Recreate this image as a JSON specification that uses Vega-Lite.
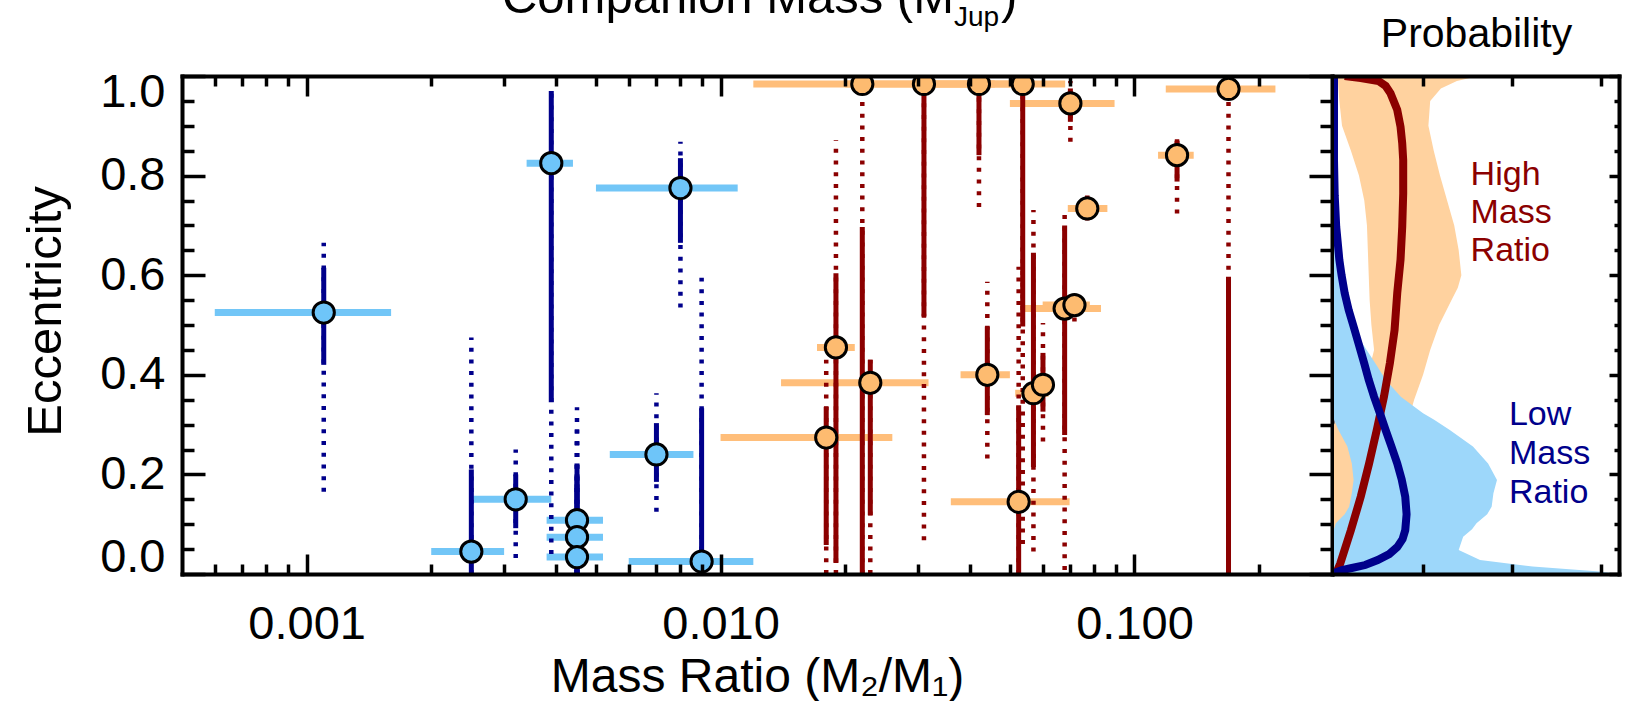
{
  "$schema": "https://vega.github.io/schema/vega-lite/v6.json",
  "autosize": {"type": "none"},
  "padding": {"left": 182, "top": 76, "right": 1453, "bottom": 625},
  "background": "white",
  "spacing": 0,
  "config": {"view": {"stroke": null}, "font": "Liberation Sans", "axis": {"grid": false}},
  "datasets": {
    "pts": [
      {"g":"L","q":0.0011,"qlo":0.0006,"qhi":0.0016,"e":0.525,"e1lo":0.42,"e1hi":0.615,"e2lo":0.165,"e2hi":0.665},
      {"g":"L","q":0.0039,"qlo":0.0034,"qhi":0.0044,"e":0.825,"e1lo":0.345,"e1hi":0.97,"e2lo":0.04,"e2hi":0.97},
      {"g":"L","q":0.0080,"qlo":0.0050,"qhi":0.0110,"e":0.775,"e1lo":0.665,"e1hi":0.835,"e2lo":0.535,"e2hi":0.868},
      {"g":"L","q":0.0025,"qlo":0.0020,"qhi":0.0030,"e":0.045,"e1lo":0.0,"e1hi":0.21,"e2lo":0.0,"e2hi":0.475},
      {"g":"L","q":0.0032,"qlo":0.0025,"qhi":0.0039,"e":0.15,"e1lo":0.092,"e1hi":0.20,"e2lo":0.032,"e2hi":0.25},
      {"g":"L","q":0.0045,"qlo":0.0038,"qhi":0.0052,"e":0.108,"e1lo":0.0,"e1hi":0.222,"e2lo":0.0,"e2hi":0.335},
      {"g":"L","q":0.0045,"qlo":0.0038,"qhi":0.0052,"e":0.074,"e1lo":0.0,"e1hi":0.2,"e2lo":0.0,"e2hi":0.3},
      {"g":"L","q":0.0045,"qlo":0.0038,"qhi":0.0052,"e":0.034,"e1lo":0.0,"e1hi":0.18,"e2lo":0.0,"e2hi":0.28},
      {"g":"L","q":0.0070,"qlo":0.0054,"qhi":0.0086,"e":0.24,"e1lo":0.185,"e1hi":0.303,"e2lo":0.125,"e2hi":0.363},
      {"g":"L","q":0.0090,"qlo":0.0060,"qhi":0.0120,"e":0.025,"e1lo":0.0,"e1hi":0.333,"e2lo":0.0,"e2hi":0.595},
      {"g":"H","q":0.0220,"qlo":0.012,"qhi":0.040,"e":0.984,"e1lo":0.0,"e1hi":0.697,"e2lo":0.0,"e2hi":0.958},
      {"g":"H","q":0.0310,"qlo":0.020,"qhi":0.046,"e":0.984,"e1lo":0.517,"e1hi":0.975,"e2lo":0.068,"e2hi":0.975},
      {"g":"H","q":0.0421,"qlo":0.030,"qhi":0.056,"e":0.984,"e1lo":0.841,"e1hi":0.975,"e2lo":0.737,"e2hi":0.975},
      {"g":"H","q":0.0537,"qlo":0.040,"qhi":0.068,"e":0.984,"e1lo":0.497,"e1hi":0.975,"e2lo":0.06,"e2hi":0.975},
      {"g":"H","q":0.0700,"qlo":0.050,"qhi":0.0895,"e":0.945,"e1lo":0.908,"e1hi":0.975,"e2lo":0.868,"e2hi":0.99},
      {"g":"H","q":0.1687,"qlo":0.119,"qhi":0.219,"e":0.974,"e1lo":0.0,"e1hi":0.597,"e2lo":0.0,"e2hi":0.96},
      {"g":"H","q":0.1267,"qlo":0.114,"qhi":0.139,"e":0.841,"e1lo":0.788,"e1hi":0.87,"e2lo":0.724,"e2hi":0.88},
      {"g":"H","q":0.0769,"qlo":0.069,"qhi":0.086,"e":0.734,"e1lo":0.72,"e1hi":0.75,"e2lo":0.71,"e2hi":0.76},
      {"g":"H","q":0.0678,"qlo":0.053,"qhi":0.083,"e":0.533,"e1lo":0.279,"e1hi":0.70,"e2lo":0.008,"e2hi":0.725},
      {"g":"H","q":0.0716,"qlo":0.060,"qhi":0.078,"e":0.54,"e1lo":0.52,"e1hi":0.56,"e2lo":0.507,"e2hi":0.577},
      {"g":"H","q":0.0441,"qlo":0.038,"qhi":0.050,"e":0.40,"e1lo":0.319,"e1hi":0.497,"e2lo":0.232,"e2hi":0.587},
      {"g":"H","q":0.0570,"qlo":0.0515,"qhi":0.062,"e":0.363,"e1lo":0.215,"e1hi":0.645,"e2lo":0.045,"e2hi":0.731},
      {"g":"H","q":0.0601,"qlo":0.057,"qhi":0.063,"e":0.38,"e1lo":0.326,"e1hi":0.444,"e2lo":0.266,"e2hi":0.504},
      {"g":"H","q":0.0525,"qlo":0.036,"qhi":0.0697,"e":0.145,"e1lo":0.0,"e1hi":0.339,"e2lo":0.0,"e2hi":0.617},
      {"g":"H","q":0.0190,"qlo":0.0171,"qhi":0.0211,"e":0.455,"e1lo":0.022,"e1hi":0.604,"e2lo":0.0,"e2hi":0.871},
      {"g":"H","q":0.0230,"qlo":0.0140,"qhi":0.0318,"e":0.384,"e1lo":0.118,"e1hi":0.43,"e2lo":0.0,"e2hi":0.43},
      {"g":"H","q":0.0180,"qlo":0.010,"qhi":0.026,"e":0.274,"e1lo":0.058,"e1hi":0.336,"e2lo":0.0,"e2hi":0.43}
    ],
    "oband": [
      {"e":0.0,"lo":0.0,"hi":0.4},{"e":0.1,"lo":0.0,"hi":0.5},{"e":0.2,"lo":0.0,"hi":0.62},
      {"e":0.3,"lo":0.0,"hi":0.82},{"e":0.35,"lo":0.2,"hi":0.9},{"e":0.4,"lo":0.38,"hi":1.0},
      {"e":0.45,"lo":0.45,"hi":1.08},{"e":0.5,"lo":0.42,"hi":1.18},{"e":0.55,"lo":0.40,"hi":1.32},
      {"e":0.575,"lo":0.395,"hi":1.39},{"e":0.6,"lo":0.39,"hi":1.43},{"e":0.65,"lo":0.38,"hi":1.40},
      {"e":0.7,"lo":0.37,"hi":1.35},{"e":0.75,"lo":0.34,"hi":1.27},{"e":0.8,"lo":0.28,"hi":1.19},
      {"e":0.85,"lo":0.19,"hi":1.12},{"e":0.9,"lo":0.09,"hi":1.06},{"e":0.95,"lo":0.06,"hi":1.08},
      {"e":0.975,"lo":0.05,"hi":1.2},{"e":0.99,"lo":0.045,"hi":1.38},{"e":1.0,"lo":0.04,"hi":1.62}
    ],
    "bband": [
      {"e":0.0,"lo":0.0,"hi":3.2},{"e":0.005,"lo":0.0,"hi":2.98},{"e":0.015,"lo":0.0,"hi":2.23},
      {"e":0.028,"lo":0.0,"hi":1.64},{"e":0.048,"lo":0.0,"hi":1.4},{"e":0.075,"lo":0.0,"hi":1.45},
      {"e":0.09,"lo":0.0,"hi":1.55},{"e":0.102,"lo":0.02,"hi":1.6},{"e":0.12,"lo":0.12,"hi":1.72},
      {"e":0.135,"lo":0.17,"hi":1.77},{"e":0.162,"lo":0.2,"hi":1.79},{"e":0.189,"lo":0.22,"hi":1.83},
      {"e":0.222,"lo":0.2,"hi":1.73},{"e":0.256,"lo":0.15,"hi":1.56},{"e":0.289,"lo":0.05,"hi":1.3},
      {"e":0.31,"lo":0.0,"hi":1.12},{"e":0.323,"lo":0.0,"hi":1.0},{"e":0.356,"lo":0.0,"hi":0.75},
      {"e":0.39,"lo":0.0,"hi":0.58},{"e":0.424,"lo":0.0,"hi":0.46},{"e":0.46,"lo":0.0,"hi":0.33},
      {"e":0.5,"lo":0.0,"hi":0.2},{"e":0.55,"lo":0.0,"hi":0.1},{"e":0.6,"lo":0.0,"hi":0.07},
      {"e":0.65,"lo":0.0,"hi":0.05},{"e":0.7,"lo":0.0,"hi":0.04},{"e":0.8,"lo":0.0,"hi":0.03},
      {"e":0.9,"lo":0.0,"hi":0.02},{"e":1.0,"lo":0.0,"hi":0.02}
    ],
    "rcurve": [
      {"e":0.0,"p":0.02},{"e":0.021,"p":0.07},{"e":0.088,"p":0.19},{"e":0.155,"p":0.30},
      {"e":0.222,"p":0.394},{"e":0.289,"p":0.48},{"e":0.356,"p":0.561},{"e":0.424,"p":0.628},
      {"e":0.49,"p":0.68},{"e":0.564,"p":0.71},{"e":0.631,"p":0.747},{"e":0.697,"p":0.766},
      {"e":0.764,"p":0.777},{"e":0.831,"p":0.777},{"e":0.865,"p":0.766},{"e":0.898,"p":0.747},
      {"e":0.932,"p":0.71},{"e":0.965,"p":0.635},{"e":0.98,"p":0.58},{"e":0.99,"p":0.5},
      {"e":0.996,"p":0.3},{"e":1.0,"p":0.12}
    ],
    "bcurve": [
      {"e":0.0,"p":0.0},{"e":0.004,"p":0.03},{"e":0.008,"p":0.09},{"e":0.012,"p":0.2},
      {"e":0.018,"p":0.35},{"e":0.028,"p":0.49},{"e":0.04,"p":0.62},{"e":0.054,"p":0.71},
      {"e":0.07,"p":0.77},{"e":0.088,"p":0.80},{"e":0.12,"p":0.815},{"e":0.155,"p":0.80},
      {"e":0.19,"p":0.76},{"e":0.222,"p":0.71},{"e":0.256,"p":0.645},{"e":0.289,"p":0.58},
      {"e":0.323,"p":0.515},{"e":0.356,"p":0.45},{"e":0.39,"p":0.39},{"e":0.424,"p":0.338},
      {"e":0.46,"p":0.28},{"e":0.497,"p":0.22},{"e":0.53,"p":0.165},{"e":0.564,"p":0.12},
      {"e":0.6,"p":0.085},{"e":0.631,"p":0.06},{"e":0.697,"p":0.025},{"e":0.76,"p":0.008},
      {"e":0.83,"p":0.0},{"e":1.0,"p":0.0}
    ]
  },
  "hconcat": [
    {
      "width": 1150,
      "height": 498,
      "data": {"name": "pts"},
      "resolve": {"axis": {"x": "independent", "y": "independent"}},
      "layer": [
        {
          "transform": [{"filter": "datum.g == 'L'"}],
          "mark": {"type": "rule", "color": "#72C6F7", "strokeWidth": 7, "clip": true},
          "encoding": {
            "x": {"field": "qlo", "type": "quantitative", "scale": {"type": "log", "domain": [0.0005, 0.3], "nice": false},
              "axis": {"orient": "bottom", "values": [0.0006,0.0007,0.0008,0.0009,0.001,0.002,0.003,0.004,0.005,0.006,0.007,0.008,0.009,0.01,0.02,0.03,0.04,0.05,0.06,0.07,0.08,0.09,0.1,0.2],
                "tickSize": {"condition": {"test": "abs(log(datum.value)/LN10 - round(log(datum.value)/LN10)) < 0.01", "value": -20}, "value": -10},
                "tickWidth": 3.5, "tickColor": "black", "domainColor": "black", "domainWidth": 4, "domainCap": "square",
                "labelExpr": "abs(log(datum.value)/LN10 - round(log(datum.value)/LN10)) < 0.01 ? format(datum.value, '.3f') : ''",
                "labelFontSize": 47, "labelColor": "black", "labelPadding": 84, "labelBaseline": "alphabetic",
                "labelFlush": false, "labelOverlap": false, "labelBound": false,
                "title": "Mass Ratio (M₂/M₁)", "titleFontSize": 48, "titleFontWeight": "normal", "titleColor": "black",
                "titleBaseline": "alphabetic", "titleAlign": "center", "titleX": 575, "titleY": 117, "grid": false, "zindex": 1}},
            "x2": {"field": "qhi"},
            "y": {"field": "e", "type": "quantitative", "scale": {"domain": [0, 1], "nice": false, "zero": false},
              "axis": {"orient": "left", "values": [0,0.05,0.1,0.15,0.2,0.25,0.3,0.35,0.4,0.45,0.5,0.55,0.6,0.65,0.7,0.75,0.8,0.85,0.9,0.95,1.0],
                "tickSize": {"condition": {"test": "abs(datum.value*5 - round(datum.value*5)) < 0.01", "value": -23}, "value": -12},
                "tickWidth": 3.5, "tickColor": "black", "domainColor": "black", "domainWidth": 4, "domainCap": "square",
                "labelExpr": "abs(datum.value*5 - round(datum.value*5)) < 0.01 ? format(datum.value, '.1f') : ''",
                "labelFontSize": 47, "labelColor": "black", "labelPadding": 40,
                "labelOffset": {"condition": [{"test": "datum.value > 0.99", "value": 16}, {"test": "datum.value < 0.01", "value": -17}], "value": 0},
                "labelFlush": false, "labelOverlap": false, "labelBound": false,
                "title": "Eccentricity", "titleFontSize": 49, "titleFontWeight": "normal", "titleColor": "black",
                "titleAngle": 270, "titleBaseline": "bottom", "titleAlign": "center", "titleX": -112, "titleY": 235, "grid": false, "zindex": 1}}
          }
        },
        {
          "transform": [{"filter": "datum.g == 'H'"}],
          "mark": {"type": "rule", "color": "#FFBE7A", "strokeWidth": 7, "clip": true},
          "encoding": {
            "x": {"field": "qlo", "type": "quantitative", "scale": {"type": "log", "domain": [0.0005, 0.3], "nice": false},
              "axis": {"orient": "top", "values": [0.0006,0.0007,0.0008,0.0009,0.001,0.002,0.003,0.004,0.005,0.006,0.007,0.008,0.009,0.01,0.02,0.03,0.04,0.05,0.06,0.07,0.08,0.09,0.1,0.2],
                "tickSize": {"condition": {"test": "abs(log(datum.value)/LN10 - round(log(datum.value)/LN10)) < 0.01", "value": -20}, "value": -10},
                "tickWidth": 3.5, "tickColor": "black", "domainColor": "black", "domainWidth": 4, "domainCap": "square",
                "labels": false, "title": null, "grid": false, "zindex": 1}},
            "x2": {"field": "qhi"},
            "y": {"field": "e", "type": "quantitative", "scale": {"domain": [0, 1], "nice": false, "zero": false},
              "axis": {"orient": "right", "values": [0,0.05,0.1,0.15,0.2,0.25,0.3,0.35,0.4,0.45,0.5,0.55,0.6,0.65,0.7,0.75,0.8,0.85,0.9,0.95,1.0],
                "tickSize": {"condition": {"test": "abs(datum.value*5 - round(datum.value*5)) < 0.01", "value": -23}, "value": -12},
                "tickWidth": 3.5, "tickColor": "black", "domainColor": "black", "domainWidth": 4, "domainCap": "square",
                "labels": false, "title": null, "grid": false, "zindex": 1}}
          }
        },
        {
          "transform": [{"filter": "datum.g == 'L'"}],
          "mark": {"type": "rule", "color": "#00008B", "strokeWidth": 4.5, "strokeDash": [4, 7.7], "clip": true},
          "encoding": {
            "x": {"field": "q", "type": "quantitative", "scale": {"type": "log", "domain": [0.0005, 0.3], "nice": false}, "axis": null},
            "y": {"field": "e2lo", "type": "quantitative", "scale": {"domain": [0, 1], "nice": false, "zero": false}, "axis": null},
            "y2": {"field": "e2hi"}
          }
        },
        {
          "transform": [{"filter": "datum.g == 'H'"}],
          "mark": {"type": "rule", "color": "#8B0000", "strokeWidth": 4.5, "strokeDash": [4, 7.7], "clip": true},
          "encoding": {
            "x": {"field": "q", "type": "quantitative", "scale": {"type": "log", "domain": [0.0005, 0.3], "nice": false}, "axis": null},
            "y": {"field": "e2lo", "type": "quantitative", "scale": {"domain": [0, 1], "nice": false, "zero": false}, "axis": null},
            "y2": {"field": "e2hi"}
          }
        },
        {
          "transform": [{"filter": "datum.g == 'L'"}],
          "mark": {"type": "rule", "color": "#00008B", "strokeWidth": 5, "clip": true},
          "encoding": {
            "x": {"field": "q", "type": "quantitative", "scale": {"type": "log", "domain": [0.0005, 0.3], "nice": false}, "axis": null},
            "y": {"field": "e1lo", "type": "quantitative", "scale": {"domain": [0, 1], "nice": false, "zero": false}, "axis": null},
            "y2": {"field": "e1hi"}
          }
        },
        {
          "transform": [{"filter": "datum.g == 'H'"}],
          "mark": {"type": "rule", "color": "#8B0000", "strokeWidth": 5, "clip": true},
          "encoding": {
            "x": {"field": "q", "type": "quantitative", "scale": {"type": "log", "domain": [0.0005, 0.3], "nice": false}, "axis": null},
            "y": {"field": "e1lo", "type": "quantitative", "scale": {"domain": [0, 1], "nice": false, "zero": false}, "axis": null},
            "y2": {"field": "e1hi"}
          }
        },
        {
          "transform": [{"filter": "datum.g == 'L'"}],
          "mark": {"type": "point", "shape": "circle", "filled": true, "fill": "#6EC5F9", "stroke": "black", "strokeWidth": 3, "size": 450, "opacity": 1, "clip": true},
          "encoding": {
            "x": {"field": "q", "type": "quantitative", "scale": {"type": "log", "domain": [0.0005, 0.3], "nice": false}, "axis": null},
            "y": {"field": "e", "type": "quantitative", "scale": {"domain": [0, 1], "nice": false, "zero": false}, "axis": null}
          }
        },
        {
          "transform": [{"filter": "datum.g == 'H'"}],
          "mark": {"type": "point", "shape": "circle", "filled": true, "fill": "#FDBB70", "stroke": "black", "strokeWidth": 3, "size": 450, "opacity": 1, "clip": true},
          "encoding": {
            "x": {"field": "q", "type": "quantitative", "scale": {"type": "log", "domain": [0.0005, 0.3], "nice": false}, "axis": null},
            "y": {"field": "e", "type": "quantitative", "scale": {"domain": [0, 1], "nice": false, "zero": false}, "axis": null}
          }
        },
        {
          "data": {"values": [{}]},
          "mark": {"type": "text", "text": "Companion Mass (M", "align": "right", "baseline": "alphabetic", "fontSize": 49, "color": "black"},
          "encoding": {
            "x": {"datum": 0.03664, "type": "quantitative", "scale": {"type": "log", "domain": [0.0005, 0.3], "nice": false}, "axis": null},
            "y": {"datum": 1.1265, "type": "quantitative", "scale": {"domain": [0, 1], "nice": false, "zero": false}, "axis": null}
          }
        },
        {
          "data": {"values": [{}]},
          "mark": {"type": "text", "text": "Jup", "align": "left", "baseline": "alphabetic", "fontSize": 28, "color": "black"},
          "encoding": {
            "x": {"datum": 0.03664, "type": "quantitative", "scale": {"type": "log", "domain": [0.0005, 0.3], "nice": false}, "axis": null},
            "y": {"datum": 1.1004, "type": "quantitative", "scale": {"domain": [0, 1], "nice": false, "zero": false}, "axis": null}
          }
        },
        {
          "data": {"values": [{}]},
          "mark": {"type": "text", "text": ")", "align": "left", "baseline": "alphabetic", "fontSize": 49, "color": "black"},
          "encoding": {
            "x": {"datum": 0.04762, "type": "quantitative", "scale": {"type": "log", "domain": [0.0005, 0.3], "nice": false}, "axis": null},
            "y": {"datum": 1.1265, "type": "quantitative", "scale": {"domain": [0, 1], "nice": false, "zero": false}, "axis": null}
          }
        }
      ]
    },
    {
      "width": 285,
      "height": 498,
      "resolve": {"axis": {"x": "independent", "y": "independent"}},
      "layer": [
        {
          "data": {"name": "oband"},
          "mark": {"type": "area", "orient": "horizontal", "color": "#FFD29F", "opacity": 1, "clip": true},
          "encoding": {
            "y": {"field": "e", "type": "quantitative", "scale": {"domain": [0, 1], "nice": false, "zero": false},
              "axis": {"orient": "right", "values": [0,0.05,0.1,0.15,0.2,0.25,0.3,0.35,0.4,0.45,0.5,0.55,0.6,0.65,0.7,0.75,0.8,0.85,0.9,0.95,1.0],
                "tickSize": {"condition": {"test": "abs(datum.value*5 - round(datum.value*5)) < 0.01", "value": -10}, "value": -5},
                "tickWidth": 3.5, "tickColor": "black", "domainColor": "black", "domainWidth": 4, "domainCap": "square",
                "labels": false, "title": null, "grid": false, "zindex": 1}},
            "x": {"field": "lo", "type": "quantitative", "scale": {"domain": [0, 3.2], "nice": false, "zero": false},
              "axis": {"orient": "bottom", "values": [1, 2, 3], "tickSize": -10, "tickWidth": 3.5, "tickColor": "black",
                "domainColor": "black", "domainWidth": 4, "domainCap": "square", "labels": false, "title": null, "grid": false, "zindex": 1}},
            "x2": {"field": "hi"}
          }
        },
        {
          "data": {"name": "bband"},
          "mark": {"type": "area", "orient": "horizontal", "color": "#9DD7FA", "opacity": 1, "clip": true},
          "encoding": {
            "y": {"field": "e", "type": "quantitative", "scale": {"domain": [0, 1], "nice": false, "zero": false}, "axis": null},
            "x": {"field": "lo", "type": "quantitative", "scale": {"domain": [0, 3.2], "nice": false, "zero": false},
              "axis": {"orient": "top", "values": [1, 2, 3], "tickSize": -10, "tickWidth": 3.5, "tickColor": "black",
                "domainColor": "black", "domainWidth": 4, "domainCap": "square", "labels": false, "title": null, "grid": false, "zindex": 1}},
            "x2": {"field": "hi"}
          }
        },
        {
          "data": {"name": "rcurve"},
          "mark": {"type": "line", "color": "#8B0000", "strokeWidth": 8, "clip": true},
          "encoding": {
            "x": {"field": "p", "type": "quantitative", "scale": {"domain": [0, 3.2], "nice": false, "zero": false}, "axis": null},
            "y": {"field": "e", "type": "quantitative", "scale": {"domain": [0, 1], "nice": false, "zero": false}, "axis": null},
            "order": {"field": "e", "type": "quantitative"}
          }
        },
        {
          "data": {"name": "bcurve"},
          "mark": {"type": "line", "color": "#00008B", "strokeWidth": 8, "clip": true},
          "encoding": {
            "x": {"field": "p", "type": "quantitative", "scale": {"domain": [0, 3.2], "nice": false, "zero": false}, "axis": null},
            "y": {"field": "e", "type": "quantitative", "scale": {"domain": [0, 1], "nice": false, "zero": false}, "axis": null},
            "order": {"field": "e", "type": "quantitative"}
          }
        },
        {
          "data": {"values": [{}]},
          "mark": {"type": "text", "text": ["High", "Mass", "Ratio"], "align": "left", "baseline": "alphabetic", "fontSize": 34, "lineHeight": 38, "color": "#8B0000"},
          "encoding": {
            "x": {"datum": 1.534, "type": "quantitative", "scale": {"domain": [0, 3.2], "nice": false, "zero": false}, "axis": null},
            "y": {"datum": 0.781, "type": "quantitative", "scale": {"domain": [0, 1], "nice": false, "zero": false}, "axis": null}
          }
        },
        {
          "data": {"values": [{}]},
          "mark": {"type": "text", "text": ["Low", "Mass", "Ratio"], "align": "left", "baseline": "alphabetic", "fontSize": 34, "lineHeight": 39, "color": "#00008B"},
          "encoding": {
            "x": {"datum": 1.964, "type": "quantitative", "scale": {"domain": [0, 3.2], "nice": false, "zero": false}, "axis": null},
            "y": {"datum": 0.299, "type": "quantitative", "scale": {"domain": [0, 1], "nice": false, "zero": false}, "axis": null}
          }
        },
        {
          "data": {"values": [{}]},
          "mark": {"type": "text", "text": "Probability", "align": "center", "baseline": "alphabetic", "fontSize": 41, "color": "black"},
          "encoding": {
            "x": {"datum": 1.6, "type": "quantitative", "scale": {"domain": [0, 3.2], "nice": false, "zero": false}, "axis": null},
            "y": {"datum": 1.058, "type": "quantitative", "scale": {"domain": [0, 1], "nice": false, "zero": false}, "axis": null}
          }
        }
      ]
    }
  ]
}
